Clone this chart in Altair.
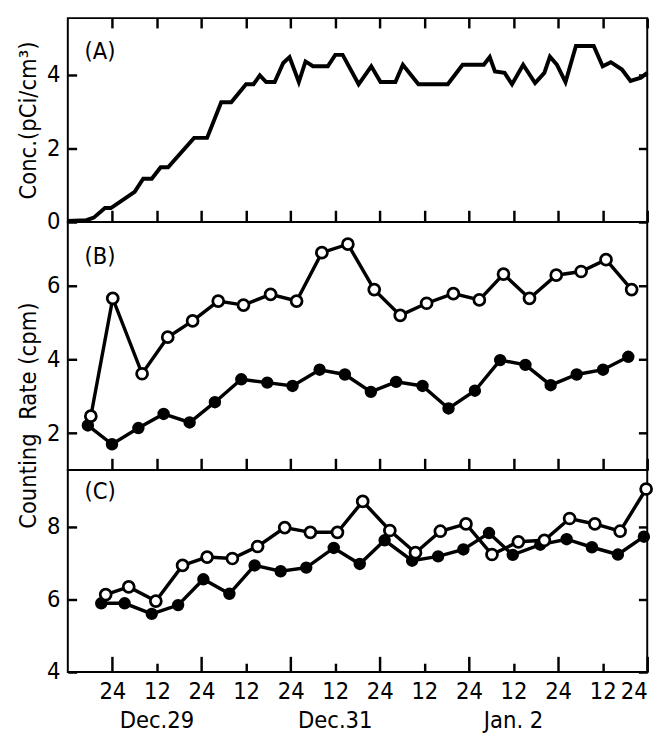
import json
import altair as alt
import pandas as pd

# ---------------- data (hours counted from Dec.28 12:00) ----------------
a_hours = [0, 5, 7, 10, 11.6, 18, 20.3, 22.6, 25, 27, 34, 37.5, 41.3, 44, 48,
           50, 51.7, 53.4, 55.7, 58, 59.7, 62.2, 64, 66, 70, 72, 74, 78.3, 81.7,
           84.2, 88.2, 90.2, 94.4, 102.3, 106.3, 112, 113.6, 115, 117.6, 119.6,
           122.6, 125.8, 128.3, 129.8, 131.7, 134, 136.8, 141.6, 144, 146.2,
           149.2, 151.5, 154.3, 156]
a_conc = [0.03, 0.05, 0.12, 0.38, 0.38, 0.82, 1.18, 1.18, 1.49, 1.49, 2.29, 2.29,
          3.26, 3.26, 3.75, 3.75, 3.99, 3.81, 3.81, 4.33, 4.49, 3.81, 4.37, 4.24,
          4.24, 4.55, 4.55, 3.75, 4.24, 3.81, 3.81, 4.28, 3.75, 3.75, 4.28, 4.28,
          4.49, 4.10, 4.06, 3.75, 4.28, 3.78, 4.06, 4.50, 4.28, 3.81, 4.79, 4.79,
          4.24, 4.35, 4.15, 3.84, 3.93, 4.06]

b_open_hours = [6.2, 12.1, 20.0, 26.9, 33.6, 40.5, 47.3, 54.6, 61.6, 68.4, 75.4,
                82.5, 89.5, 96.6, 103.8, 110.8, 117.3, 124.3, 131.5, 138.2, 144.9, 151.8]
b_open = [2.46, 5.65, 3.61, 4.60, 5.04, 5.58, 5.47, 5.76, 5.58, 6.89, 7.12,
          5.89, 5.19, 5.52, 5.78, 5.61, 6.31, 5.65, 6.28, 6.38, 6.70, 5.89]
b_fill_hours = [5.4, 11.9, 19.0, 25.8, 32.8, 39.6, 46.7, 53.7, 60.5, 67.8, 74.6,
                81.6, 88.4, 95.5, 102.5, 109.6, 116.4, 123.2, 130.0, 137.0, 144.1, 150.9]
b_fill = [2.21, 1.70, 2.14, 2.52, 2.29, 2.84, 3.46, 3.37, 3.28, 3.72, 3.59,
          3.12, 3.39, 3.28, 2.67, 3.15, 3.98, 3.85, 3.30, 3.59, 3.72, 4.07]

c_open_hours = [10.2, 16.4, 23.7, 30.9, 37.5, 44.3, 51.1, 58.4, 65.3, 72.6, 79.4,
                86.7, 93.6, 100.3, 107.2, 114.2, 121.3, 128.3, 135.1, 141.9, 148.7, 155.7]
c_open = [6.13, 6.34, 5.95, 6.93, 7.16, 7.12, 7.45, 7.97, 7.84, 7.84, 8.69,
          7.89, 7.28, 7.87, 8.07, 7.23, 7.58, 7.62, 8.22, 8.07, 7.87, 9.03]
c_fill_hours = [9.0, 15.3, 22.6, 29.7, 36.5, 43.5, 50.3, 57.3, 64.2, 71.6, 78.6,
                85.3, 92.7, 99.7, 106.5, 113.4, 119.8, 127.2, 134.3, 141.1, 148.1, 155.1]
c_fill = [5.89, 5.89, 5.60, 5.84, 6.55, 6.15, 6.93, 6.77, 6.87, 7.41, 6.97,
          7.62, 7.06, 7.18, 7.37, 7.82, 7.22, 7.50, 7.65, 7.43, 7.23, 7.72]

tick_hours = [12, 24, 36, 48, 60, 72, 84, 96, 108, 120, 132, 144, 156]
tick_labels = ["24", "12", "24", "12", "24", "12", "24", "12", "24", "12", "24", "12", "24"]
major_hours = [12, 36, 60, 84, 108, 132, 156]
minor_hours = [24, 48, 72, 96, 120, 144]
date_labels = ["Dec.29", "Dec.31", "Jan. 2"]
date_hours = [24, 72, 120]
panel_names = ["(A)", "(B)", "(C)"]

# ---------------- layout / style ----------------
W = 591
HA, HB, HC = 208, 253, 206
FONT = "'DejaVu Sans Condensed', 'Liberation Sans Narrow', 'DejaVu Sans'"
FS = 24
FW = "normal"

xs = alt.Scale(domain=[0, 156], nice=False, zero=False)


def ax_up(H, values, size):      # ticks at bottom edge pointing up
    return alt.Axis(orient="top", offset=-H, values=values, tickSize=size, tickWidth=2.5,
                    labels=False, domain=False, grid=False, title=None)


def ax_down(H, values, size):    # ticks at top edge pointing down
    return alt.Axis(orient="bottom", offset=-H, values=values, tickSize=size, tickWidth=2.5,
                    labels=False, domain=False, grid=False, title=None)


def ay_labels(values, title=None, titleY=None):
    kw = dict(orient="left", values=values, ticks=False, tickSize=0, domain=False,
              grid=False, labelPadding=8, labelFontSize=FS, labelFont=FONT,
              labelFontWeight=FW, titleFontSize=FS, titleFont=FONT, titleFontWeight=FW,
              titlePadding=6, titleColor="black", labelColor="black")
    kw["title"] = title if title is not None else None
    if titleY is not None:
        kw["titleY"] = titleY
    return alt.Axis(**kw)


def ay_in_left(values):
    return alt.Axis(orient="right", offset=-W, values=values, tickSize=9, tickWidth=2.5,
                    labels=False, domain=False, grid=False, title=None)


def ay_in_right(values):
    return alt.Axis(orient="left", offset=-W, values=values, tickSize=9, tickWidth=2.5,
                    labels=False, domain=False, grid=False, title=None)


def panel_label(i, y):
    return alt.Chart(pd.DataFrame({"t": [panel_names[i]]})).mark_text(
        font=FONT, fontSize=FS, fontWeight=FW, align="left", baseline="middle", color="black"
    ).encode(x=alt.value(17), y=alt.value(y), text="t:N")


# ---------------- panel A ----------------
dfA = pd.DataFrame({"h": a_hours, "v": a_conc})
yA = alt.Scale(domain=[0, 5.55], nice=False, zero=False)
yvA = [0, 2, 4]
A1 = alt.Chart(dfA).mark_line(color="black", strokeWidth=4).encode(
    x=alt.X("h:Q", scale=xs, axis=ax_up(HA, tick_hours, 12)),
    y=alt.Y("v:Q", scale=yA, axis=ay_labels(yvA, "Conc.(pCi/cm³)")))
A2 = alt.Chart(dfA).mark_point(opacity=0).encode(
    x=alt.X("h:Q", scale=xs, axis=ax_down(HA, tick_hours, 10)),
    y=alt.Y("v:Q", scale=yA, axis=ay_in_left(yvA)))
A3 = alt.Chart(dfA).mark_point(opacity=0).encode(
    x=alt.X("h:Q", scale=xs, axis=None),
    y=alt.Y("v:Q", scale=yA, axis=ay_in_right(yvA)))
panelA = alt.layer(A1, A2, A3, panel_label(0, 35)).resolve_axis(
    x="independent", y="independent").properties(width=W, height=HA)

# ---------------- panel B ----------------
dfBo = pd.DataFrame({"h": b_open_hours, "v": b_open})
dfBf = pd.DataFrame({"h": b_fill_hours, "v": b_fill})
yB = alt.Scale(domain=[1.0, 7.72], nice=False, zero=False)
yvB = [2, 4, 6]
B1 = alt.Chart(dfBf).mark_line(color="black", strokeWidth=3.5).encode(
    x=alt.X("h:Q", scale=xs, axis=ax_up(HB, tick_hours, 12)),
    y=alt.Y("v:Q", scale=yB, axis=ay_labels(yvB, "Counting\u00a0\u00a0Rate (cpm)", 197)))
B2 = alt.Chart(dfBf).mark_circle(color="black", size=160, opacity=1).encode(
    x=alt.X("h:Q", scale=xs, axis=None),
    y=alt.Y("v:Q", scale=yB, axis=ay_in_left(yvB)))
B3 = alt.Chart(dfBo).mark_line(color="black", strokeWidth=3.5).encode(
    x=alt.X("h:Q", scale=xs, axis=None),
    y=alt.Y("v:Q", scale=yB, axis=ay_in_right(yvB)))
B4 = alt.Chart(dfBo).mark_point(shape="circle", filled=True, fill="white", stroke="black",
                                strokeWidth=2.8, size=125, opacity=1).encode(
    x=alt.X("h:Q", scale=xs, axis=None),
    y=alt.Y("v:Q", scale=yB, axis=None))
panelB = alt.layer(B1, B2, B3, B4, panel_label(1, 36)).resolve_axis(
    x="independent", y="independent").properties(width=W, height=HB)

# ---------------- panel C ----------------
dfCo = pd.DataFrame({"h": c_open_hours, "v": c_open})
dfCf = pd.DataFrame({"h": c_fill_hours, "v": c_fill})
yC = alt.Scale(domain=[4, 9.55], nice=False, zero=False)
yvC = [4, 6, 8]
label_expr = f"{json.dumps(tick_labels)}[round(datum.value / 12) - 1]"
C1 = alt.Chart(dfCf).mark_line(color="black", strokeWidth=3.5).encode(
    x=alt.X("h:Q", scale=xs, axis=ax_up(HC, major_hours, 16)),
    y=alt.Y("v:Q", scale=yC, axis=ay_labels(yvC)))
C2 = alt.Chart(dfCf).mark_circle(color="black", size=160, opacity=1).encode(
    x=alt.X("h:Q", scale=xs, axis=ax_up(HC, minor_hours, 9)),
    y=alt.Y("v:Q", scale=yC, axis=ay_in_left(yvC)))
C3 = alt.Chart(dfCo).mark_line(color="black", strokeWidth=3.5).encode(
    x=alt.X("h:Q", scale=xs, axis=alt.Axis(
        orient="bottom", values=tick_hours, labelExpr=label_expr, ticks=False, tickSize=0,
        domain=False, grid=False, title=None, labelPadding=8, labelFontSize=FS,
        labelFontWeight=FW, labelFont=FONT, labelColor="black", labelFlush=1,
        labelOverlap=False)),
    y=alt.Y("v:Q", scale=yC, axis=ay_in_right(yvC)))
C4 = alt.Chart(dfCo).mark_point(shape="circle", filled=True, fill="white", stroke="black",
                                strokeWidth=2.8, size=125, opacity=1).encode(
    x=alt.X("h:Q", scale=xs, axis=None),
    y=alt.Y("v:Q", scale=yC, axis=None))
C5 = alt.Chart(pd.DataFrame({"h": date_hours, "t": date_labels})).mark_text(
    font=FONT, fontSize=FS, fontWeight=FW, baseline="middle", align="center", color="black"
).encode(x=alt.X("h:Q", scale=xs, axis=None), y=alt.value(HC + 50), text="t:N")
panelC = alt.layer(C1, C2, C3, C4, C5, panel_label(2, 22)).resolve_axis(
    x="independent", y="independent").properties(width=W, height=HC)

chart = alt.vconcat(panelA, panelB, panelC, spacing=0, bounds="flush").properties(
    padding={"left": 8, "top": 0, "right": 0, "bottom": 0},
    background="white",
).configure_view(stroke="black", strokeWidth=2).configure_axis(
    tickColor="black", labelColor="black", titleColor="black")

chart.save("out.html", embed_options={"renderer": "svg", "actions": False})
